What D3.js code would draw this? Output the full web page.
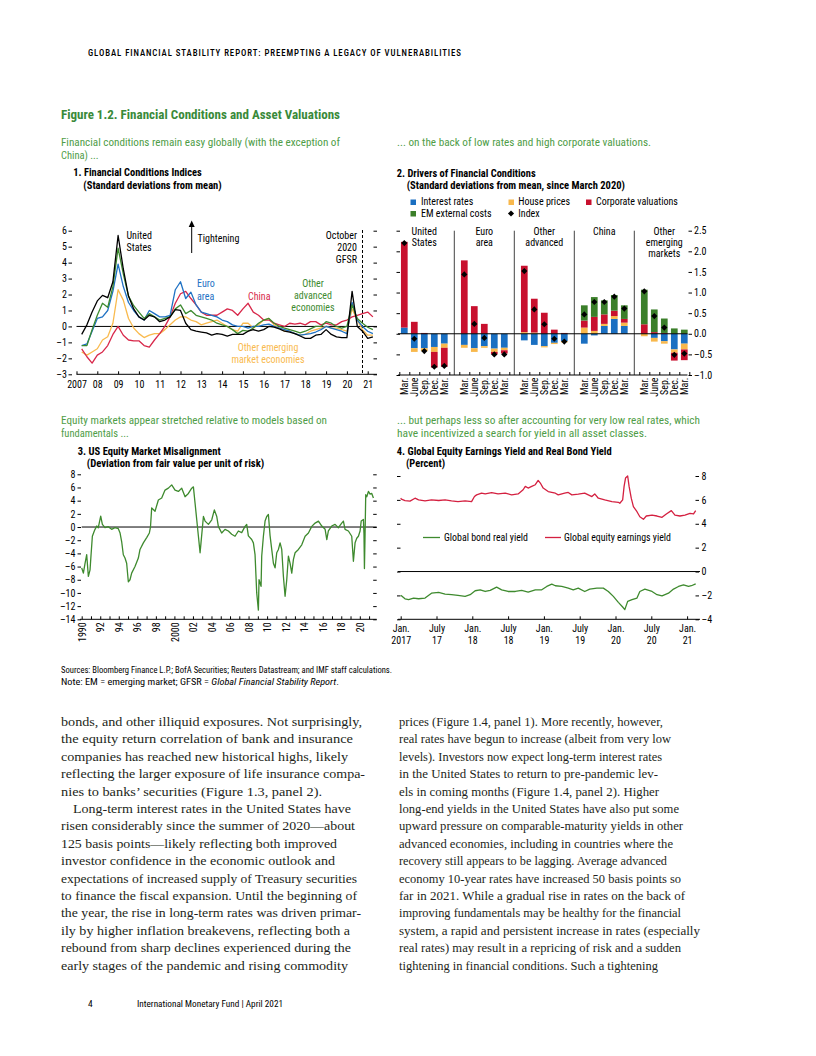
<!DOCTYPE html>
<html><head><meta charset="utf-8">
<script src="https://cdn.jsdelivr.net/npm/d3@7"></script>
<style>body{margin:0;background:#fff;}</style>
</head><body>
<script>
// ================= DATA =================
// Panel 1: Financial Conditions Indices (quarterly)
const p1Dates = [2007.25,2007.5,2007.75,2008,2008.25,2008.5,2008.75,2009,2009.25,2009.5,2009.75,2010,2010.25,2010.5,2010.75,2011,2011.25,2011.5,2011.75,2012,2012.25,2012.5,2012.75,2013,2013.25,2013.5,2013.75,2014,2014.25,2014.5,2014.75,2015,2015.25,2015.5,2015.75,2016,2016.25,2016.5,2016.75,2017,2017.25,2017.5,2017.75,2018,2018.25,2018.5,2018.75,2019,2019.25,2019.5,2019.75,2020,2020.25,2020.5,2020.75,2021,2021.25];
const p1US = [-0.5,0.1,0.9,1.6,1.95,1.8,2.8,5.7,3.6,1.9,1.1,0.6,0.4,0.7,0.6,0.3,0.4,0.6,1.05,1.0,0.2,-0.2,-0.3,-0.35,-0.4,-0.55,-0.45,-0.5,-0.6,-0.5,-0.5,-0.5,-0.3,-0.2,-0.3,-0.2,0.0,-0.05,-0.15,-0.3,-0.35,-0.45,-0.6,-0.75,-0.75,-0.55,-0.5,-0.2,-0.5,-0.65,-0.7,-0.7,2.2,0.0,-0.3,-0.75,-0.65];
const p1Euro = [-1.2,-1.1,-0.3,0.5,0.6,1.0,2.2,3.9,2.5,1.5,1.0,0.6,0.4,1.0,0.8,0.6,0.6,0.7,2.3,2.8,1.75,2.15,1.35,0.9,0.8,0.7,0.6,0.4,0.3,0.1,0.0,0.0,-0.1,0.0,0.0,0.1,0.15,0.0,-0.1,-0.2,-0.3,-0.45,-0.55,-0.5,-0.45,-0.35,-0.2,0.0,-0.1,-0.2,-0.3,-0.45,1.5,0.4,0.0,-0.3,-0.45];
const p1China = [-1.4,-1.9,-2.3,-1.8,-1.6,-1.2,-0.5,0.0,-0.55,-0.85,-0.9,-0.9,-1.2,-1.3,-0.85,-0.45,0.0,0.6,1.45,2.05,2.2,1.75,1.35,0.9,0.7,0.7,0.7,0.9,1.1,1.0,0.7,1.1,1.45,0.9,0.7,0.4,0.4,0.2,0.1,0.0,0.2,0.15,0.2,0.1,0.3,0.3,0.1,0.2,0.1,0.1,0.3,0.4,0.6,0.7,0.8,0.9,0.6];
const p1OtherAdv = [-1.2,-1.2,-0.2,0.7,1.45,1.2,2.5,4.9,3.3,1.9,1.3,0.9,0.5,0.8,0.6,0.4,0.5,0.6,1.1,1.35,0.8,1.0,0.7,0.6,0.5,0.4,0.2,0.1,0.0,-0.2,-0.45,-0.25,-0.3,-0.1,0.2,0.4,0.5,0.2,0.0,-0.1,-0.2,-0.3,-0.4,-0.3,-0.15,0.0,0.0,0.3,0.2,0.0,-0.1,0.0,1.35,0.5,0.2,-0.05,-0.2];
const p1OtherEM = [-1.6,-1.8,-1.6,-1.4,-0.85,-0.65,0.2,2.3,1.65,0.5,-0.1,-0.45,-0.7,-0.55,-0.45,-0.45,-0.2,0.1,0.4,0.6,0.6,0.4,0.3,0.1,0.2,0.3,0.4,0.2,0.0,-0.2,-0.3,0.2,0.2,-0.1,0.1,0.4,0.5,0.1,-0.1,-0.3,-0.3,-0.45,-0.55,-0.5,-0.3,-0.2,-0.1,0.0,-0.1,-0.1,-0.2,-0.3,1.1,0.4,-0.2,-0.55,-0.55];
const p1YTicks = [-3,-2,-1,0,1,2,3,4,5,6];
const p1YearTicks = [2007,2008,2009,2010,2011,2012,2013,2014,2015,2016,2017,2018,2019,2020,2021];
const p1YearLabels = ["2007","08","09","10","11","12","13","14","15","16","17","18","19","20","21"];
const p1GFSRDate = 2020.75;

// Panel 2: Drivers of Financial Conditions
const p2Groups = [["United","States"],["Euro","area"],["Other","advanced"],["China"],["Other","emerging","markets"]];
const p2Periods = ["Mar.","June","Sep.","Dec.","Mar."];
const p2Interest  = [[0.15,-0.35,-0.35,-0.32,-0.24],[-0.27,-0.35,-0.30,-0.36,-0.34],[-0.16,-0.27,-0.30,-0.22,-0.18],[-0.24,-0.04,0.19,0.36,0.19],[0,-0.10,-0.18,-0.38,-0.24]];
const p2House     = [[0,-0.09,-0.07,-0.12,-0.10],[-0.07,-0.09,-0.04,-0.08,-0.06],[0.04,0.03,-0.03,-0.03,-0.03],[0.15,0.07,0.05,0.07,0.08],[-0.06,-0.09,-0.06,-0.08,-0.14]];
const p2Corporate = [[2.08,0.29,0.02,-0.38,-0.46],[1.78,0.67,0.24,-0.06,-0.08],[1.61,0.82,0.51,0.10,0.02],[0.17,0.34,0.23,0.13,0.09],[0.23,0.04,0.02,-0.19,-0.26]];
const p2EMExt     = [[0,0,0,0,0],[0,0,0,0,0],[0,0,0,0,0],[0.37,0.48,0.34,0.38,0.33],[0.84,0.55,0.35,0.13,0.10]];
const p2Index     = [[2.2,-0.12,-0.42,-0.8,-0.78],[1.44,0.24,-0.1,-0.5,-0.5],[1.52,0.59,0.23,-0.12,-0.19],[0.47,0.77,0.77,0.9,0.61],[1.03,0.43,0.15,-0.51,-0.48]];
const p2YTicks = [-1,-0.5,0,0.5,1,1.5,2,2.5];

// Panel 3: US Equity Market Misalignment
const p3Dates = [1990.00,1990.18,1990.36,1990.54,1990.72,1990.90,1991.00,1991.15,1991.36,1991.44,1991.62,1991.79,1992.05,1992.23,1992.51,1992.87,1993.23,1993.59,1993.95,1994.13,1994.31,1994.49,1994.67,1994.85,1995.03,1995.21,1995.39,1995.75,1996.11,1996.29,1996.65,1997.01,1997.30,1997.42,1997.55,1997.91,1998.27,1998.63,1998.99,1999.35,1999.71,2000.07,2000.43,2000.79,2001.15,2001.51,2001.87,2002.05,2002.23,2002.41,2002.59,2002.77,2002.87,2003.13,2003.31,2003.67,2004.03,2004.31,2004.57,2004.74,2005.10,2005.46,2005.82,2006.18,2006.54,2006.90,2007.26,2007.62,2007.80,2007.98,2008.34,2008.52,2008.70,2008.88,2009.06,2009.13,2009.35,2009.42,2009.60,2009.78,2009.96,2010.14,2010.32,2010.50,2010.68,2010.86,2011.04,2011.22,2011.40,2011.58,2011.76,2011.94,2012.12,2012.30,2012.48,2012.66,2012.84,2013.02,2013.38,2013.74,2014.10,2014.46,2014.82,2015.18,2015.54,2015.90,2016.26,2016.44,2016.61,2016.97,2017.33,2017.69,2018.05,2018.23,2018.41,2018.77,2019.13,2019.31,2019.49,2019.67,2019.85,2020.03,2020.15,2020.39,2020.45,2020.50,2020.57,2020.64,2020.75,2020.93,2021.11,2021.29,2021.47];
const p3Values = [-6.2,-7.0,-5.5,-4.2,-7.5,-6.5,-4.4,-1.4,-0.6,-0.35,0.15,-0.1,1.65,0.4,-0.1,0.05,-0.35,-0.1,-0.25,-0.85,-2.2,-4.2,-4.7,-5.5,-8.3,-8.0,-7.0,-6.0,-4.7,-3.4,-2.4,-1.6,-0.9,0.0,2.9,2.4,4.1,4.4,5.6,5.9,6.4,5.6,5.4,5.9,4.6,5.1,5.9,6.1,3.6,1.1,-1.4,-3.9,-2.4,1.6,0.9,0.4,1.1,2.6,1.6,0.1,-0.9,-0.35,-0.6,-1.1,-1.4,-0.6,-0.85,0.1,0.4,-1.35,-1.9,-2.4,-4.2,-10.0,-12.6,-8.0,-9.0,-4.4,-1.4,0.9,1.6,1.9,-1.3,-3.4,-5.5,-6.2,-3.9,-3.4,-2.4,-3.4,-7.5,-10.5,-8.0,-4.4,-5.5,-7.0,-4.9,-3.9,-3.4,-2.7,-1.4,-0.9,0.1,0.6,0.9,0.15,-0.35,-1.9,-0.6,0.15,0.4,-0.1,0.6,0.9,-0.35,-0.6,-1.4,-5.2,-2.4,-1.7,-1.4,-0.6,0.9,1.15,-1.0,-6.3,-1.0,4.9,4.6,5.4,5.0,5.1,4.4];
const p3YTicks = [-14,-12,-10,-8,-6,-4,-2,0,2,4,6,8];
const p3YearTicks = [1990,1991,1992,1993,1994,1995,1996,1997,1998,1999,2000,2001,2002,2003,2004,2005,2006,2007,2008,2009,2010,2011,2012,2013,2014,2015,2016,2017,2018,2019,2020,2021];
const p3LabelYears = [1990,1992,1994,1996,1998,2000,2002,2004,2006,2008,2010,2012,2014,2016,2018,2020];
const p3YearLabels = ["1990","92","94","96","98","2000","02","04","06","08","10","12","14","16","18","20"];

// Panel 4: Global equity earnings yield and real bond yield
const p4EqDates = [2017.00,2017.01,2017.06,2017.13,2017.20,2017.25,2017.34,2017.43,2017.53,2017.62,2017.71,2017.80,2017.90,2017.99,2018.03,2018.06,2018.13,2018.18,2018.27,2018.36,2018.46,2018.55,2018.64,2018.71,2018.74,2018.78,2018.83,2018.88,2018.92,2018.95,2018.99,2019.06,2019.16,2019.20,2019.29,2019.34,2019.39,2019.48,2019.57,2019.67,2019.71,2019.76,2019.85,2019.95,2020.04,2020.06,2020.10,2020.12,2020.14,2020.17,2020.19,2020.22,2020.25,2020.30,2020.34,2020.39,2020.43,2020.51,2020.58,2020.65,2020.71,2020.78,2020.83,2020.90,2020.97,2021.04,2021.09,2021.12];
const p4Equity = [6.14,6.06,5.94,5.9,6.14,6.0,5.92,6.0,5.95,6.0,5.92,5.86,5.92,5.86,6.28,6.42,6.56,6.5,6.6,6.5,6.56,6.42,6.5,6.85,7.13,6.99,7.13,7.27,7.63,7.41,6.99,6.7,6.56,6.42,6.56,6.62,6.42,6.48,6.56,6.28,6.5,6.14,6.0,5.86,5.8,5.72,6.0,7.13,7.83,8.0,7.13,6.14,5.44,5.01,4.59,4.37,4.65,4.73,4.65,4.54,4.82,5.1,4.73,4.65,4.73,4.87,4.82,5.1];
const p4BondDates = [2017.00,2017.01,2017.06,2017.11,2017.18,2017.25,2017.34,2017.43,2017.53,2017.62,2017.71,2017.80,2017.90,2017.97,2018.04,2018.11,2018.18,2018.25,2018.34,2018.41,2018.50,2018.60,2018.69,2018.78,2018.88,2018.97,2019.04,2019.11,2019.16,2019.25,2019.34,2019.41,2019.48,2019.57,2019.64,2019.74,2019.83,2019.90,2019.97,2020.04,2020.10,2020.13,2020.17,2020.23,2020.30,2020.34,2020.41,2020.51,2020.58,2020.65,2020.74,2020.81,2020.88,2020.95,2021.02,2021.06,2021.12];
const p4Bond = [-2.0,-2.03,-2.28,-2.36,-2.22,-2.28,-2.22,-1.81,-1.75,-1.89,-1.94,-2.0,-2.08,-1.94,-1.61,-1.53,-1.67,-1.58,-1.31,-1.53,-1.67,-1.67,-1.58,-1.72,-1.53,-1.53,-1.25,-1.06,-1.19,-1.25,-1.39,-1.53,-1.39,-1.67,-1.47,-1.39,-1.39,-1.67,-2.08,-2.58,-2.97,-3.19,-2.5,-2.36,-2.22,-1.67,-1.47,-1.67,-1.94,-2.03,-1.81,-1.47,-1.25,-1.11,-1.25,-1.19,-1.03];
const p4YTicks = [-4,-2,0,2,4,6,8];
const p4XTicks = [2017,2017.5,2018,2018.5,2019,2019.5,2020,2020.5,2021];
const p4XTop = ["Jan.","July","Jan.","July","Jan.","July","Jan.","July","Jan."];
const p4XBottom = ["2017","17","18","18","19","19","20","20","21"];

// Body text
const bodyLeft = ["bonds, and other illiquid exposures. Not surprisingly,","the equity return correlation of bank and insurance","companies has reached new historical highs, likely","reflecting the larger exposure of life insurance compa-","nies to banks’ securities (Figure 1.3, panel 2).","Long-term interest rates in the United States have","risen considerably since the summer of 2020—about","125 basis points—likely reflecting both improved","investor confidence in the economic outlook and","expectations of increased supply of Treasury securities","to finance the fiscal expansion. Until the beginning of","the year, the rise in long-term rates was driven primar-","ily by higher inflation breakevens, reflecting both a","rebound from sharp declines experienced during the","early stages of the pandemic and rising commodity"];
const bodyRight = ["prices (Figure 1.4, panel 1). More recently, however,","real rates have begun to increase (albeit from very low","levels). Investors now expect long-term interest rates","in the United States to return to pre-pandemic lev-","els in coming months (Figure 1.4, panel 2). Higher","long-end yields in the United States have also put some","upward pressure on comparable-maturity yields in other","advanced economies, including in countries where the","recovery still appears to be lagging. Average advanced","economy 10-year rates have increased 50 basis points so","far in 2021. While a gradual rise in rates on the back of","improving fundamentals may be healthy for the financial","system, a rapid and persistent increase in rates (especially","real rates) may result in a repricing of risk and a sudden","tightening in financial conditions. Such a tightening"];
// layout (line end x positions measured on the page)
const bodyLeftEnds = [362,353,348,365,322,351,355,337,335,357,357,361,350,351,348];
const bodyRightEnds = [663,671,662,658,659,679,683,673,667,681,685,681,700,681,658];

// ================= DRAWING =================
const SANS = "'Liberation Sans Narrow','Arial Narrow','Roboto Condensed','DejaVu Sans Condensed','Liberation Sans',sans-serif";
const SERIF = "'Liberation Serif','Times New Roman',serif";
const FS = 10;
const svg = d3.select("body").append("svg").attr("width",816).attr("height",1056).style("display","block").attr("font-family",SANS);
svg.append("rect").attr("width",816).attr("height",1056).attr("fill","#fff");

const C = {titleGreen:"#3a8a3a", subGreen:"#4f9d47", blue:"#1f72c4", red:"#d8284a", green:"#3d8a2f", orange:"#f9ba4e",
           bBlue:"#1a6fc1", bOrange:"#f8b84c", bRed:"#c8102e", bGreen:"#3b7f2a", lineGreen:"#3e8a2e", lineRed:"#d42040"};

function txt(x,y,s,o={}){
  const t = svg.append("text").attr("x",x).attr("y",y).text(s)
    .attr("font-size",o.size||FS).attr("fill",o.fill||"#000")
    .attr("font-weight",o.weight||"normal").attr("text-anchor",o.anchor||"start");
  if(o.family) t.attr("font-family",o.family);
  if(o.style) t.attr("font-style",o.style);
  if(o.len) t.attr("textLength",o.len).attr("lengthAdjust",o.adj||"spacingAndGlyphs");
  if(o.ls) t.attr("letter-spacing",o.ls);
  return t;
}
function lines(x,y,arr,dy,o){ arr.forEach((s,i)=>txt(x,y+i*dy,s,o)); }
function ln(x1,y1,x2,y2,stroke="#000",w=1,dash=null){
  const l = svg.append("line").attr("x1",x1).attr("y1",y1).attr("x2",x2).attr("y2",y2).attr("stroke",stroke).attr("stroke-width",w);
  if(dash) l.attr("stroke-dasharray",dash);
  return l;
}
function styleAxis(g){
  g.attr("font-family",SANS).attr("font-size",FS);
  g.select(".domain").remove();
  g.selectAll(".tick line").attr("stroke","#000").attr("stroke-width",1);
  g.selectAll(".tick text").attr("fill","#000");
}
const fmtNeg = d => d<0 ? "–"+Math.abs(d) : String(d);
const fmtNeg1 = d => d<0 ? "–"+Math.abs(d).toFixed(1) : d.toFixed(1);

// ---------- Header & titles ----------
txt(88,55.5,"GLOBAL FINANCIAL STABILITY REPORT: PREEMPTING A LEGACY OF VULNERABILITIES",{size:8.8,len:373,adj:"spacing",weight:"500"});
txt(61,118.5,"Figure 1.2. Financial Conditions and Asset Valuations",{size:12.8,weight:"bold",fill:C.titleGreen,len:279});
txt(61,146,"Financial conditions remain easy globally (with the exception of",{size:10.5,fill:C.subGreen,len:279});
txt(61,158.5,"China) ...",{size:10.5,fill:C.subGreen});
txt(397,146,"... on the back of low rates and high corporate valuations.",{size:10.5,fill:C.subGreen,len:254});
txt(61,424,"Equity markets appear stretched relative to models based on",{size:10.5,fill:C.subGreen,len:266});
txt(61,436.5,"fundamentals ...",{size:10.5,fill:C.subGreen});
txt(397,424,"... but perhaps less so after accounting for very low real rates, which",{size:10.5,fill:C.subGreen,len:303});
txt(397,436.5,"have incentivized a search for yield in all asset classes.",{size:10.5,fill:C.subGreen,len:250});

txt(73.3,176,"1. Financial Conditions Indices",{weight:"bold",len:128.4});
txt(83.3,189,"(Standard deviations from mean)",{weight:"bold",len:138.4});
txt(396.7,176.5,"2. Drivers of Financial Conditions",{weight:"bold",len:139});
txt(406.7,189,"(Standard deviations from mean, since March 2020)",{weight:"bold",len:218.3});
txt(77.7,454.5,"3. US Equity Market Misalignment",{weight:"bold",len:143});
txt(86.7,467,"(Deviation from fair value per unit of risk)",{weight:"bold",len:177.6});
txt(396.7,454.5,"4. Global Equity Earnings Yield and Real Bond Yield",{weight:"bold",len:215});
txt(406,467,"(Percent)",{weight:"bold",len:39});

// ---------- Panel 1 ----------
{
  const x = d3.scaleLinear().domain([2007,2021]).range([76.5,367.7]);
  const y = d3.scaleLinear().domain([-3,6]).range([374.3,230.7]);
  const R = 377, L = 76.5;
  svg.append("g").attr("transform","translate(72,0)")
    .call(d3.axisLeft(y).tickValues(p1YTicks).tickSize(3.5).tickPadding(1.5).tickFormat(fmtNeg)).call(styleAxis);
  svg.append("g").attr("transform",`translate(${R-3.5},0)`)
    .call(d3.axisRight(y).tickValues(p1YTicks).tickSize(3.5).tickFormat("")).call(styleAxis);
  svg.append("g").attr("transform",`translate(0,${y(-3)})`)
    .call(d3.axisBottom(x).tickValues(p1YearTicks).tickSizeInner(-3).tickSizeOuter(0).tickPadding(7).tickFormat((d,i)=>p1YearLabels[i])).call(styleAxis);
  ln(L,y(-3),R,y(-3));
  ln(L,y(0),R,y(0));
  // GFSR marker
  ln(x(p1GFSRDate),230,x(p1GFSRDate),y(-3),"#000",1,"3,2");
  const line = d3.line().x((d,i)=>x(p1Dates[i])).y(d=>y(d));
  [[p1OtherEM,C.orange],[p1China,C.red],[p1Euro,C.blue],[p1OtherAdv,C.green],[p1US,"#000"]].forEach(([v,c])=>{
    svg.append("path").datum(v).attr("d",line).attr("fill","none").attr("stroke",c).attr("stroke-width",1.3).attr("stroke-linejoin","round");
  });
  lines(126.5,239,["United","States"],12,{});
  // tightening arrow
  ln(191.7,253,191.7,226,"#000",1);
  svg.append("path").attr("d","M188.7,227 L191.7,220.5 L194.7,227 Z").attr("fill","#000");
  txt(197.5,242,"Tightening",{});
  lines(357,239,["October","2020","GFSR"],12,{anchor:"end"});
  lines(197,287,["Euro","area"],12.5,{fill:C.blue});
  txt(248,299.5,"China",{fill:C.red});
  lines(313,287,["Other","advanced","economies"],12,{anchor:"middle",fill:C.green});
  lines(268,351,["Other emerging","market economies"],12,{anchor:"middle",fill:C.orange});
}

// ---------- Panel 2 ----------
{
  const slots = d3.range(29);
  const x = d3.scaleBand().domain(slots).range([399.3,689.3]).paddingInner(0.33).paddingOuter(0.165);
  const y = d3.scaleLinear().domain([-1,2.5]).range([375,230.7]);
  const L = 398, R = 687.5;
  const rows = [];
  p2Groups.forEach((g,gi)=>p2Periods.forEach((p,pi)=>rows.push({slot:gi*6+pi, period:p,
     interest:p2Interest[gi][pi], house:p2House[gi][pi], corporate:p2Corporate[gi][pi], em:p2EMExt[gi][pi], index:p2Index[gi][pi]})));
  const keys = ["interest","house","corporate","em"];
  const cols = {interest:C.bBlue, house:C.bOrange, corporate:C.bRed, em:C.bGreen};
  const stack = d3.stack().keys(keys).offset(d3.stackOffsetDiverging)(rows);
  svg.append("g").attr("transform",`translate(400,0)`)
    .call(d3.axisLeft(y).tickValues(p2YTicks).tickSize(3.5).tickFormat("")).call(styleAxis);
  svg.append("g").attr("transform",`translate(688.5,0)`)
    .call(d3.axisRight(y).tickValues(p2YTicks).tickSize(3.5).tickPadding(2).tickFormat(fmtNeg1)).call(styleAxis);
  stack.forEach(s=>{
    svg.append("g").attr("fill",cols[s.key]).selectAll("rect").data(s).join("rect")
      .attr("x",d=>x(d.data.slot)).attr("width",x.bandwidth())
      .attr("y",d=>y(Math.max(d[0],d[1]))).attr("height",d=>Math.abs(y(d[0])-y(d[1])));
  });
  [5,11,17,23].forEach(s=>ln(x(s)+x.bandwidth()/2,230.7,x(s)+x.bandwidth()/2,375,"#444",1));
  ln(L,y(0),R,y(0));
  ln(L,y(-1),R,y(-1));
  svg.append("g").attr("transform",`translate(0,${y(-1)})`)
    .call(d3.axisBottom(d3.scaleLinear().domain([0,29]).range([399.3,689.3])).tickValues(d3.range(30)).tickSizeInner(-3).tickSizeOuter(0).tickFormat(""))
    .call(styleAxis);
  svg.append("g").attr("transform",`translate(0,${y(-1)})`)
    .call(d3.axisBottom(x).tickValues(rows.map(r=>r.slot)).tickSize(0).tickFormat(s=>rows.find(r=>r.slot===s).period))
    .call(styleAxis)
    .selectAll(".tick text").attr("transform","rotate(-90)").attr("text-anchor","end").attr("x",-2.5).attr("y",0).attr("dy","0.36em");
  svg.append("g").selectAll("path").data(rows).join("path")
    .attr("d",d3.symbol(d3.symbolSquare,19))
    .attr("transform",d=>`translate(${x(d.slot)+x.bandwidth()/2},${y(d.index)}) rotate(45)`).attr("fill","#000");
  p2Groups.forEach((g,gi)=>{
    const cx = x(gi*6+2)+x.bandwidth()/2;
    lines(cx,234.5,g,11.3,{anchor:"middle"});
  });
  svg.append("rect").attr("x",410.5).attr("y",199.5).attr("width",5.5).attr("height",5.5).attr("fill",C.bBlue);
  txt(421,205,"Interest rates");
  svg.append("rect").attr("x",508.5).attr("y",199.5).attr("width",5.5).attr("height",5.5).attr("fill",C.bOrange);
  txt(518.3,205,"House prices");
  svg.append("rect").attr("x",586).attr("y",199.5).attr("width",5.5).attr("height",5.5).attr("fill",C.bRed);
  txt(596,205,"Corporate valuations");
  svg.append("rect").attr("x",410.5).attr("y",211).attr("width",5.5).attr("height",5.5).attr("fill",C.bGreen);
  txt(421,216.7,"EM external costs");
  svg.append("path").attr("d",d3.symbol(d3.symbolSquare,19)).attr("transform","translate(511,213.5) rotate(45)").attr("fill","#000");
  txt(518.3,216.7,"Index");
}

// ---------- Panel 3 ----------
{
  const x = d3.scaleLinear().domain([1990,2020]).range([81.7,359.8]);
  const y = d3.scaleLinear().domain([-14,8]).range([619.3,474.3]);
  const L = 80, R = 376.7;
  svg.append("g").attr("transform","translate(81,0)")
    .call(d3.axisLeft(y).tickValues(p3YTicks).tickSize(3.5).tickPadding(2).tickFormat(fmtNeg)).call(styleAxis);
  svg.append("g").attr("transform",`translate(${R-3.5},0)`)
    .call(d3.axisRight(y).tickValues(p3YTicks).tickSize(3.5).tickFormat("")).call(styleAxis);
  svg.append("g").attr("transform",`translate(0,${y(-14)})`)
    .call(d3.axisBottom(x).tickValues(p3YearTicks).tickSizeInner(-3).tickSizeOuter(0).tickFormat("")).call(styleAxis);
  svg.append("g").attr("transform",`translate(0,${y(-14)})`)
    .call(d3.axisBottom(x).tickValues(p3LabelYears).tickSize(0).tickFormat((d,i)=>p3YearLabels[i])).call(styleAxis)
    .selectAll(".tick text").attr("transform","rotate(-90)").attr("text-anchor","end").attr("x",-3).attr("y",0).attr("dy","0.36em");
  ln(L,y(-14),R,y(-14));
  ln(81.7,y(0),R,y(0));
  const line = d3.line().x((d,i)=>x(p3Dates[i])).y(d=>y(d));
  svg.append("path").datum(p3Values).attr("d",line).attr("fill","none").attr("stroke",C.lineGreen).attr("stroke-width",1.3).attr("stroke-linejoin","round");
}

// ---------- Panel 4 ----------
{
  const x = d3.scaleLinear().domain([2017,2021]).range([400.7,687.1]);
  const y = d3.scaleLinear().domain([-4,8]).range([619.3,476]);
  const L = 398, R = 700;
  svg.append("g").attr("transform","translate(400.5,0)")
    .call(d3.axisLeft(y).tickValues(p4YTicks).tickSize(3.5).tickFormat("")).call(styleAxis);
  svg.append("g").attr("transform",`translate(695.5,0)`)
    .call(d3.axisRight(y).tickValues(p4YTicks).tickSize(3.5).tickPadding(2.5).tickFormat(fmtNeg)).call(styleAxis);
  const xa = svg.append("g").attr("transform",`translate(0,${y(-4)})`)
    .call(d3.axisBottom(x).tickValues(p4XTicks).tickSizeInner(-3).tickSizeOuter(0).tickPadding(6).tickFormat((d,i)=>p4XTop[i])).call(styleAxis);
  xa.selectAll(".tick text").each(function(d,i){
    d3.select(this).append("tspan").attr("x",0).attr("dy","1.15em").text(p4XBottom[i]);
  });
  ln(L,y(-4),R,y(-4));
  ln(L,y(0),R,y(0));
  const lineE = d3.line().x((d,i)=>x(p4EqDates[i])).y(d=>y(d));
  const lineB = d3.line().x((d,i)=>x(p4BondDates[i])).y(d=>y(d));
  svg.append("path").datum(p4Equity).attr("d",lineE).attr("fill","none").attr("stroke",C.lineRed).attr("stroke-width",1.3).attr("stroke-linejoin","round");
  svg.append("path").datum(p4Bond).attr("d",lineB).attr("fill","none").attr("stroke",C.lineGreen).attr("stroke-width",1.3).attr("stroke-linejoin","round");
  ln(423,537.5,440,537.5,C.lineGreen,1.3);
  txt(444,541,"Global bond real yield",{len:84});
  ln(545,537.5,561,537.5,C.lineRed,1.3);
  txt(564,541,"Global equity earnings yield",{len:107});
}

// ---------- Sources ----------
txt(61,672.5,"Sources: Bloomberg Finance L.P.; BofA Securities; Reuters Datastream; and IMF staff calculations.",{size:9.5,len:331});
{
  const t = txt(61,684.5,"Note: EM = emerging market; GFSR = ",{size:9.5,len:278});
  t.append("tspan").attr("font-style","italic").text("Global Financial Stability Report");
  t.append("tspan").text(".");
}

// ---------- Body text ----------
bodyLeft.forEach((s,i)=>{
  const x0 = i===5 ? 73 : 61;
  txt(x0,726+i*17.4,s,{size:12.3,family:SERIF,len:bodyLeftEnds[i]-x0,fill:"#231f20"});
});
bodyRight.forEach((s,i)=>{
  txt(399,726+i*17.4,s,{size:12.3,family:SERIF,len:bodyRightEnds[i]-399,fill:"#231f20"});
});

// ---------- Footer ----------
txt(88,1007,"4",{size:9.5});
txt(137,1007,"International Monetary Fund | April 2021",{size:9.5,len:146});
</script>
</body></html>
